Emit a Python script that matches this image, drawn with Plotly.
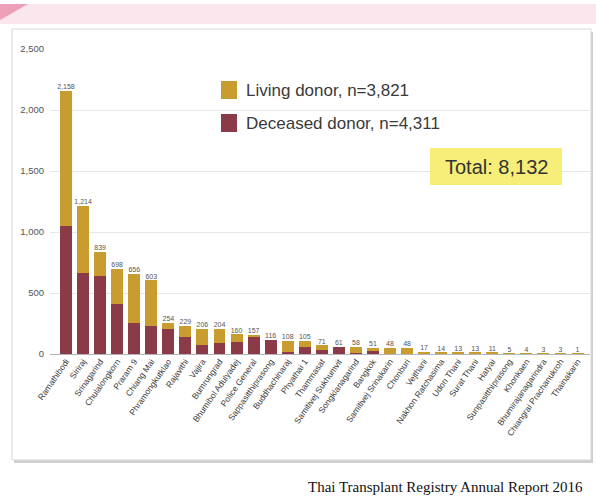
import plotly.graph_objects as go

hospitals = ["Ramathibodi", "Siriraj", "Srinagarind", "Chulalongkorn", "Praram 9", "Chiang Mai",
             "Phramongkutklao", "Rajavithi", "Vajira", "Bumrungrad", "Bhumibol Adulyadej",
             "Police General", "Sappasitthiprasong", "Buddhachinaraj", "Phyathai 1", "Thammasat",
             "Samitivej Sukhumvit", "Songklanagarind", "Bangkok", "Samitivej Srinakarin", "Chonburi",
             "Vejthani", "Nakhon Ratchasima", "Udon Thani", "Surat Thani", "Hatyai",
             "Sunpasitthiprasong", "Khonkaen", "Bhumirajanagarindra", "Chiangrai Prachanukroh",
             "Thainakarin"]
deceased = [1050, 660, 640, 410, 254, 230, 205, 140, 74, 90, 98, 140, 116, 15, 55, 35,
            61, 10, 25, 0, 0, 0, 1, 0, 0, 0, 1, 0, 0, 0, 0]
living = [1108, 554, 199, 288, 402, 373, 49, 89, 132, 114, 62, 17, 0, 93, 50, 36,
          0, 48, 26, 48, 48, 17, 13, 13, 13, 11, 4, 4, 3, 3, 1]
totals = [d + l for d, l in zip(deceased, living)]
total_labels = [f"{t:,}" for t in totals]

legend_living = "Living donor, n=3,821"
legend_deceased = "Deceased donor, n=4,311"
total_text = "Total: 8,132"
footer = "Thai Transplant Registry Annual Report 2016"

C_LIV = "#c99c30"
C_DEC = "#8b3a48"

# plot area in pixels
L, R, T, B = 50, 590, 49, 354
W, H = 596, 497
def px(x):
    return (x - L) / (R - L)
def py(y):
    return (B - y) / (B - T)

fig = go.Figure()
fig.add_trace(go.Bar(x=hospitals, y=deceased, marker_color=C_DEC, width=0.7,
                     name=legend_deceased, marker_line_width=0))
fig.add_trace(go.Bar(x=hospitals, y=living, marker_color=C_LIV, width=0.7,
                     name=legend_living, marker_line_width=0))
fig.add_trace(go.Scatter(x=hospitals, y=totals, mode="text", text=total_labels,
                         textposition="top center",
                         textfont=dict(size=7, color="#555", family="Liberation Sans"),
                         showlegend=False, cliponaxis=False))

shapes = []
# top pink band
shapes.append(dict(type="rect", xref="paper", yref="paper", x0=px(0), x1=px(W), y0=py(24), y1=py(4),
                   fillcolor="#fae6ec", line_width=0, layer="below"))
shapes.append(dict(type="path", xref="paper", yref="paper",
                   path=f"M {px(0)},{py(4)} L {px(28)},{py(4)} L {px(0)},{py(20)} Z",
                   fillcolor="#ec9fb6", line_width=0, layer="below"))
# card shadow + border
shapes.append(dict(type="rect", xref="paper", yref="paper", x0=px(14), x1=px(593), y0=py(463), y1=py(32),
                   fillcolor="#cfcfcf", line_width=0, layer="below"))
shapes.append(dict(type="rect", xref="paper", yref="paper", x0=px(12), x1=px(591), y0=py(460), y1=py(29),
                   fillcolor="white", line=dict(color="#d8d8d8", width=1), layer="below"))
# legend squares
shapes.append(dict(type="rect", xref="paper", yref="paper", x0=px(221), x1=px(237), y0=py(99), y1=py(81),
                   fillcolor=C_LIV, line_width=0))
shapes.append(dict(type="rect", xref="paper", yref="paper", x0=px(221), x1=px(237), y0=py(132), y1=py(114),
                   fillcolor=C_DEC, line_width=0))
# total box
shapes.append(dict(type="rect", xref="paper", yref="paper", x0=px(430), x1=px(562), y0=py(185), y1=py(148),
                   fillcolor="#f6ee78", line_width=0))

annotations = [
    dict(xref="paper", yref="paper", x=px(244), y=py(91), text=legend_living, showarrow=False,
         xanchor="left", yanchor="middle", font=dict(size=17, color="#3a3a3a", family="Liberation Sans")),
    dict(xref="paper", yref="paper", x=px(244), y=py(123), text=legend_deceased, showarrow=False,
         xanchor="left", yanchor="middle", font=dict(size=17, color="#3a3a3a", family="Liberation Sans")),
    dict(xref="paper", yref="paper", x=px(496), y=py(167), text=total_text, showarrow=False,
         xanchor="center", yanchor="middle", font=dict(size=20, color="#333", family="Liberation Sans")),
    dict(xref="paper", yref="paper", x=px(585), y=py(487), text=footer, showarrow=False,
         xanchor="right", yanchor="middle", font=dict(size=15, color="#111", family="Liberation Serif")),
]

fig.update_layout(
    width=W, height=H,
    margin=dict(l=L, r=W - R, t=T, b=H - B, pad=0),
    barmode="stack", bargap=0.3,
    showlegend=False,
    paper_bgcolor="white", plot_bgcolor="rgba(0,0,0,0)",
    shapes=shapes, annotations=annotations,
    xaxis=dict(range=[-0.94, 30.73], tickangle=-55, tickfont=dict(size=8.5, color="#3c3c3c", family="Liberation Sans"),
               showgrid=False, ticks="", showline=False, zeroline=False, automargin=False),
    yaxis=dict(range=[0, 2500], tickvals=[0, 500, 1000, 1500, 2000, 2500], tickformat=",",
               tickfont=dict(size=9.5, color="#555", family="Liberation Sans"),
               showgrid=True, gridcolor="#e6e6e6", gridwidth=1, zeroline=True, zerolinecolor="#b5b5b5",
               zerolinewidth=1, ticks="", ticklabelstandoff=5, automargin=False),
)

fig.write_html("out.html")
